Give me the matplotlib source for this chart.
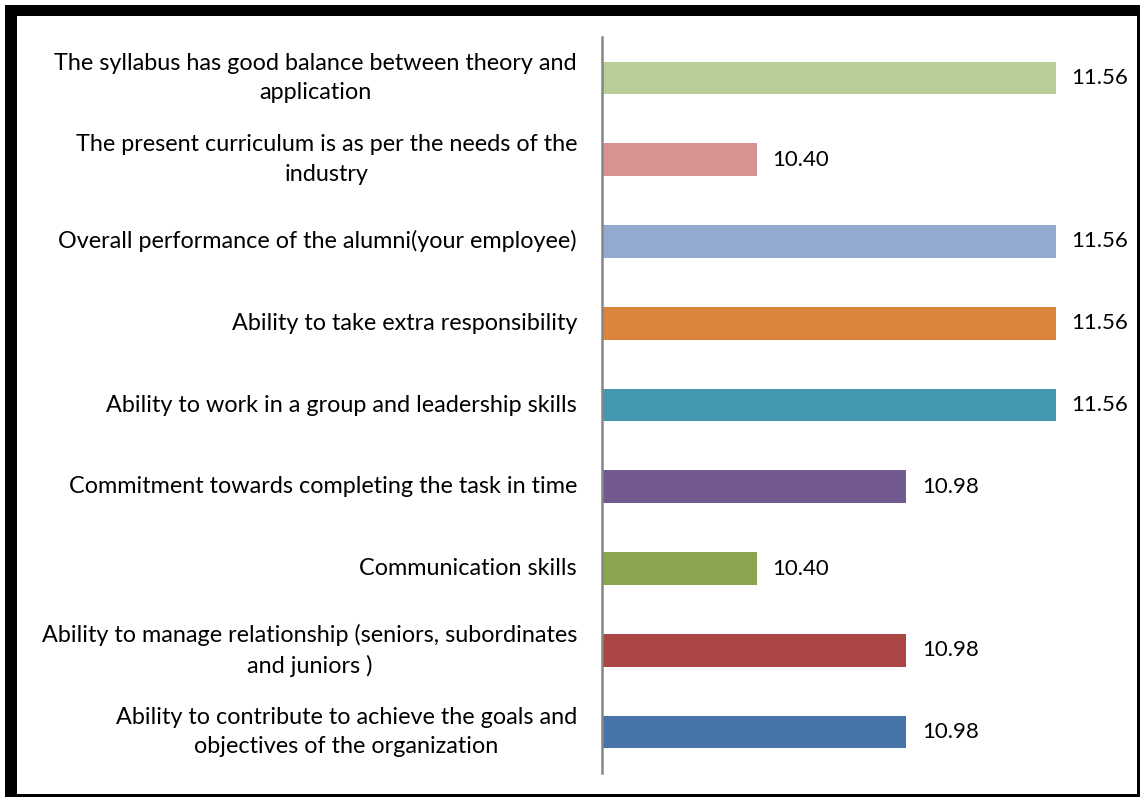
import matplotlib.pyplot as plt
from matplotlib.patches import Rectangle

labels = [
    "Ability to contribute to achieve the goals and\nobjectives of the organization",
    "Ability to manage relationship (seniors, subordinates\nand juniors )",
    "Communication skills",
    "Commitment towards completing the task in time",
    "Ability to work in a group and leadership skills",
    "Ability to take extra responsibility",
    "Overall performance of the alumni(your employee)",
    "The present curriculum is as per the needs of the\nindustry",
    "The syllabus has good balance between theory and\napplication",
]
values = [10.98, 10.98, 10.40, 10.98, 11.56, 11.56, 11.56, 10.40, 11.56]
colors = ["#4673A8", "#AA4744", "#89A54E", "#725990", "#4399B0",
          "#DB843D", "#93A9CF", "#D59391", "#B9CD96"]

plt.rcParams['font.family'] = ['Lato', 'DejaVu Sans']

W, H = 1141, 798
fig = plt.figure(figsize=(W / 100, H / 100), dpi=100)

# axes placed in pixel terms
left, right, top, bottom = 602, 1118, 37, 773
ax = fig.add_axes([left / W, 1 - bottom / H, (right - left) / W, (bottom - top) / H])

y = range(len(labels))
ax.barh(y, values, height=0.4, color=colors)
ax.set_xlim(9.8, 11.8)
ax.set_ylim(-0.5, len(labels) - 0.5)

for yi, v in zip(y, values):
    ax.text(v + 0.06, yi, f"{v:.2f}", va="center", ha="left", fontsize=16)

ax.set_yticks(list(y))
ax.set_yticklabels(labels, fontsize=16.8, multialignment="center",
                   linespacing=1.5, va="center")
ax.tick_params(axis="y", length=0, pad=18)
ax.set_xticks([])
for s in ["top", "right", "bottom"]:
    ax.spines[s].set_visible(False)
ax.spines["left"].set_color("#868686")
ax.spines["left"].set_linewidth(1.8)

# frame around the figure
def px_rect(x0, y0, x1, y1):
    fig.add_artist(Rectangle((x0 / W, 1 - y1 / H), (x1 - x0) / W, (y1 - y0) / H,
                             transform=fig.transFigure, color="black", lw=0))

px_rect(5, 5, 1140, 16)
px_rect(5, 5, 17, 797)
px_rect(1137, 5, 1140, 797)
px_rect(5, 794, 1140, 797)

fig.savefig("out.png", dpi=100)
